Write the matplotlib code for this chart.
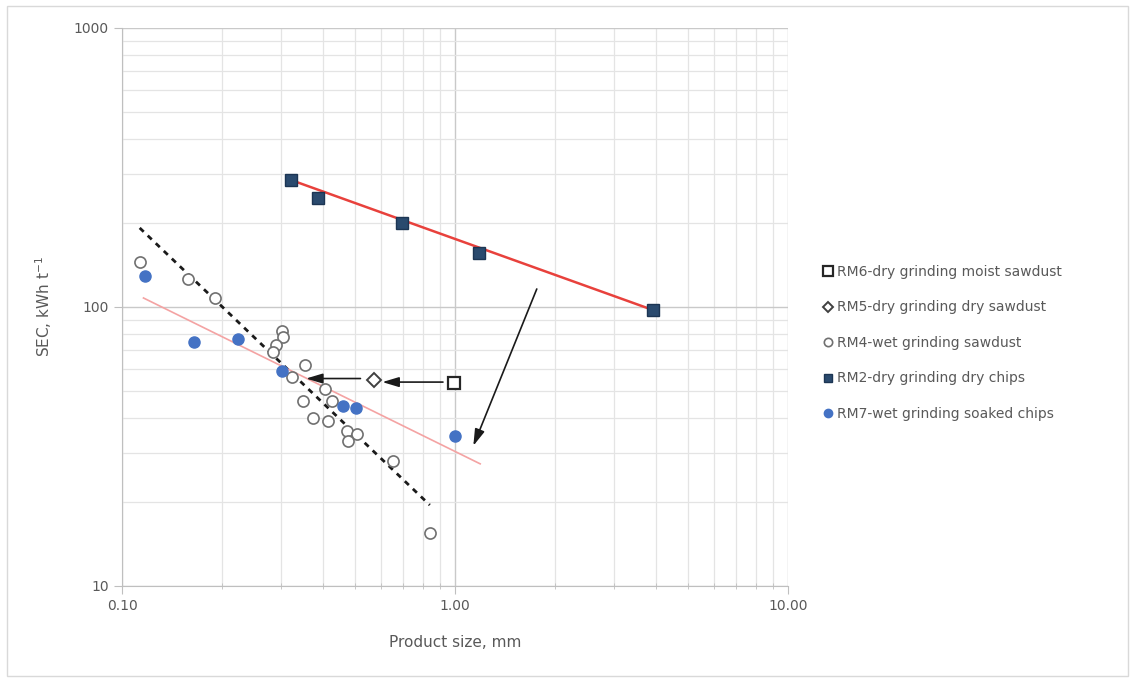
import matplotlib.pyplot as plt
from matplotlib.patches import Rectangle
from matplotlib.ticker import FixedLocator, NullFormatter

# RM6 - dry grinding moist sawdust
rm6_x = [0.99]
rm6_y = [53.5]

# RM5 - dry grinding dry sawdust
rm5_x = [0.57]
rm5_y = [54.7]

# RM4 - wet grinding sawdust
rm4_x = [0.113, 0.158, 0.190, 0.302, 0.304, 0.291, 0.285, 0.354, 0.323, 0.407,
         0.426, 0.350, 0.375, 0.416, 0.473, 0.507, 0.478, 0.653, 0.841]
rm4_y = [145, 126, 108, 82, 78, 73, 69, 62, 56, 51,
         46, 46, 40, 39, 36, 35, 33, 28, 15.5]

# RM2 - dry grinding dry chips
rm2_x = [0.322, 0.388, 0.693, 1.18, 3.93]
rm2_y = [285, 246, 200, 156, 97.5]

# RM7 - wet grinding soaked chips
rm7_x = [0.117, 0.164, 0.223, 0.302, 0.462, 0.504, 1.0]
rm7_y = [129.5, 75, 77, 59, 44, 43.6, 34.6]

# trend lines (end points)
trend_rm4_x = [0.113, 0.84]
trend_rm4_y = [192, 19.5]
trend_rm7_x = [0.116, 1.19]
trend_rm7_y = [107.7, 27.4]
trend_rm2_x = [0.322, 3.93]
trend_rm2_y = [285, 97.5]

# arrows: (tail x, tail y, head x, head y)
arrows = [
    (0.92, 53.8, 0.605, 53.8),
    (0.52, 55.4, 0.357, 55.4),
    (1.76, 116, 1.135, 31.8),
]

txt = '#595959'

fig = plt.figure(figsize=(11.35, 6.82), dpi=100)
fig.patches.append(Rectangle((0.006, 0.009), 0.988, 0.982, transform=fig.transFigure,
                             fill=False, edgecolor='#d9d9d9', linewidth=1))
ax = fig.add_axes([0.1075, 0.1408, 0.5868, 0.8182])
ax.set_xscale('log')
ax.set_yscale('log')
ax.set_xlim(0.1, 10)
ax.set_ylim(10, 1000)

# grid
ax.grid(True, which='major', color='#c9c9c9', linewidth=1.0)
ax.grid(True, which='minor', color='#e4e4e4', linewidth=0.9)
ax.set_axisbelow(True)

for s in ['top', 'right']:
    ax.spines[s].set_visible(False)
for s in ['left', 'bottom']:
    ax.spines[s].set_color('#bfbfbf')

ax.xaxis.set_major_locator(FixedLocator([0.1, 1, 10]))
ax.set_xticklabels(['0.10', '1.00', '10.00'])
ax.yaxis.set_major_locator(FixedLocator([10, 100, 1000]))
ax.set_yticklabels(['10', '100', '1000'])
ax.xaxis.set_minor_formatter(NullFormatter())
ax.yaxis.set_minor_formatter(NullFormatter())
ax.tick_params(axis='both', which='major', colors='#bfbfbf', labelcolor=txt,
               labelsize=10, length=6, direction='out')
ax.tick_params(axis='x', which='minor', colors='#bfbfbf', length=4, direction='inout')
ax.tick_params(axis='y', which='minor', length=0)

# trend lines
ax.plot(trend_rm4_x, trend_rm4_y, color='#1a1a1a', linestyle=(0, (2, 2)), linewidth=2, zorder=2)
ax.plot(trend_rm7_x, trend_rm7_y, color='#f4a3a3', linewidth=1.2, zorder=2)
ax.plot(trend_rm2_x, trend_rm2_y, color='#e8413c', linewidth=1.8, zorder=2)

# data
ax.plot(rm6_x, rm6_y, linestyle='none', marker='s', markersize=9, markerfacecolor='white',
        markeredgecolor='#262626', markeredgewidth=1.6, label='RM6-dry grinding moist sawdust', zorder=4)
ax.plot(rm5_x, rm5_y, linestyle='none', marker='D', markersize=7, markerfacecolor='white',
        markeredgecolor='#404040', markeredgewidth=1.4, label='RM5-dry grinding dry sawdust', zorder=4)
ax.plot(rm4_x, rm4_y, linestyle='none', marker='o', markersize=8, markerfacecolor='white',
        markeredgecolor='#707070', markeredgewidth=1.2, label='RM4-wet grinding sawdust', zorder=3)
ax.plot(rm2_x, rm2_y, linestyle='none', marker='s', markersize=8, markerfacecolor='#2a4a6e',
        markeredgecolor='#1c3553', markeredgewidth=1, label='RM2-dry grinding dry chips', zorder=4)
ax.plot(rm7_x, rm7_y, linestyle='none', marker='o', markersize=8, markerfacecolor='#4472c4',
        markeredgecolor='#4472c4', label='RM7-wet grinding soaked chips', zorder=4)

for x0, y0, x1, y1 in arrows:
    ax.annotate('', xy=(x1, y1), xytext=(x0, y0),
                arrowprops=dict(arrowstyle='-|>,head_length=1.0,head_width=0.3',
                                color='#1a1a1a', linewidth=1.2, shrinkA=0, shrinkB=0),
                zorder=5)

ax.set_xlabel('Product size, mm', color=txt, fontsize=11, labelpad=16)
ax.set_ylabel('SEC, kWh t$^{-1}$', color=txt, fontsize=11, labelpad=14)

leg = fig.legend(loc='upper left', bbox_to_anchor=(0.712, 0.63), frameon=False,
                 fontsize=10, labelspacing=1.55, handletextpad=0.2, handlelength=1.0,
                 markerscale=0.75)
for t in leg.get_texts():
    t.set_color(txt)

fig.savefig('out.png', dpi=100)
